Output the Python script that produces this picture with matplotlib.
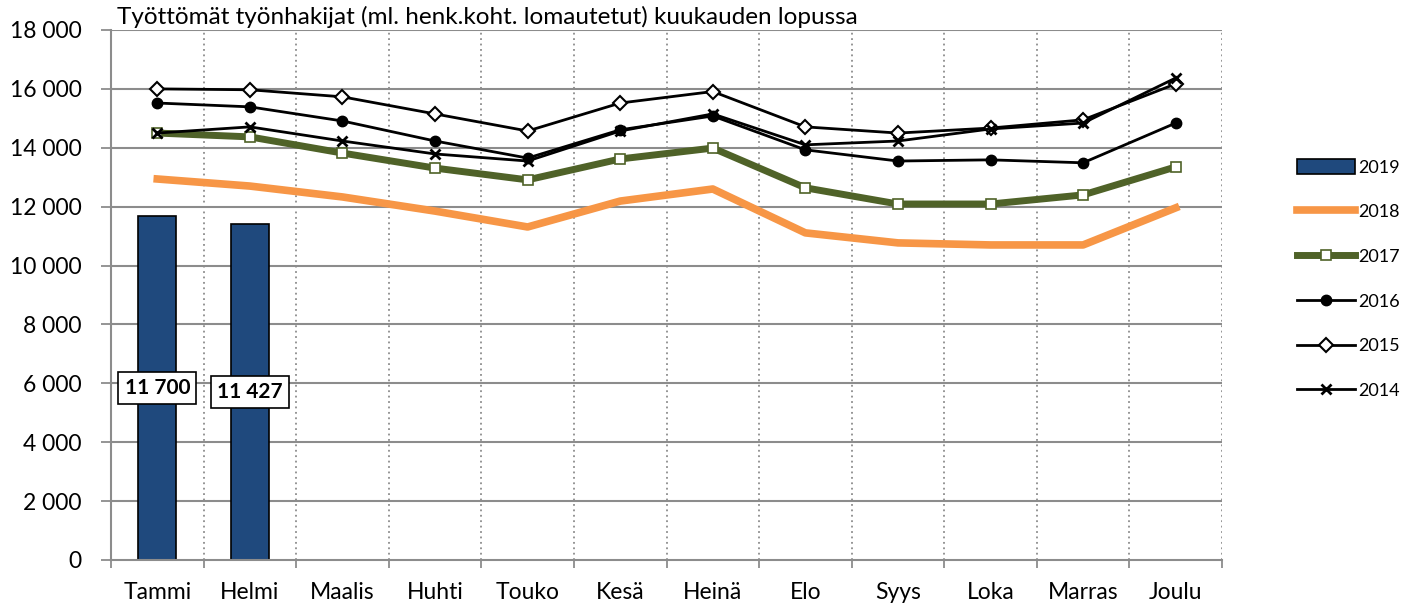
import numpy as np
import matplotlib
matplotlib.use("Agg")
import matplotlib.pyplot as plt
from matplotlib.ticker import FuncFormatter, MultipleLocator

plt.rcParams['font.family'] = ['Lato', 'DejaVu Sans']

# === data ===
months = ["Tammi", "Helmi", "Maalis", "Huhti", "Touko", "Kesä",
          "Heinä", "Elo", "Syys", "Loka", "Marras", "Joulu"]
v2019 = [11700, 11427]
v2018 = [12940, 12700, 12330, 11850, 11310, 12190, 12600, 11110, 10770, 10700, 10700, 11960]
v2017 = [14500, 14370, 13820, 13310, 12910, 13620, 13990, 12640, 12090, 12090, 12400, 13350]
v2016 = [15520, 15390, 14910, 14230, 13650, 14610, 15080, 13930, 13550, 13590, 13490, 14840]
v2015 = [16000, 15970, 15730, 15150, 14570, 15520, 15910, 14710, 14500, 14670, 14950, 16170]
v2014 = [14500, 14710, 14230, 13790, 13550, 14570, 15150, 14100, 14230, 14640, 14840, 16370]
title = "Työttömät työnhakijat (ml. henk.koht. lomautetut) kuukauden lopussa"

x = np.arange(len(months))

fig = plt.figure(figsize=(14.09, 6.10), dpi=100)
ax = fig.add_axes([111/1409, 50/610, 1111/1409, 530/610])

# grid
ax.set_axisbelow(True)
for yy in range(2000, 18001, 2000):
    ax.axhline(yy, color='#8c8c8c', lw=1.5, zorder=0)
for b in np.arange(0.5, 11.6, 1):
    ax.axvline(b, color='#8c8c8c', lw=1.3, ls=(0, (1, 2)), zorder=0)

# bars 2019
bars = ax.bar(x[:len(v2019)], v2019, width=0.41, color='#1F497D',
              edgecolor='black', lw=1.2, label='2019', zorder=2)
for xi, v in zip(x, v2019):
    ax.text(xi, v / 2, f"{v:,}".replace(",", " "), ha='center', va='center',
            fontsize=15, fontweight='bold', zorder=6,
            bbox=dict(boxstyle='square,pad=0.3', fc='white', ec='black', lw=1.2))

l18, = ax.plot(x, v2018, color='#F79646', lw=5.5, label='2018', zorder=3)
l17, = ax.plot(x, v2017, color='#4F6228', lw=5, marker='s', ms=7, mfc='white',
               mec='#4F6228', mew=1.2, label='2017', zorder=3)
l16, = ax.plot(x, v2016, color='black', lw=2, marker='o', ms=7.5, label='2016', zorder=4)
l15, = ax.plot(x, v2015, color='black', lw=2, marker='D', ms=7, mfc='white',
               mew=1.5, label='2015', zorder=4)
l14, = ax.plot(x, v2014, color='black', lw=2, marker='x', ms=7, mew=2, label='2014', zorder=4)

ax.set_xlim(-0.5, 11.5)
ax.set_ylim(0, 18000)
ax.yaxis.set_major_locator(MultipleLocator(2000))
ax.yaxis.set_major_formatter(FuncFormatter(lambda v, p: f"{int(v):,}".replace(",", " ")))
ax.set_xticks(x)
ax.set_xticklabels(months)
ax.set_xticks(np.arange(-0.5, 12, 1), minor=True)
ax.tick_params(axis='x', which='major', length=0, labelsize=16.5, pad=16)
ax.tick_params(axis='x', which='minor', length=6, color='#8c8c8c', width=1.3)
ax.tick_params(axis='y', length=7, color='#8c8c8c', width=1.3, labelsize=16.5, pad=14)

for s in ['top', 'right']:
    ax.spines[s].set_visible(False)
ax.spines['left'].set_color('#8c8c8c')
ax.spines['left'].set_linewidth(1.5)
ax.spines['bottom'].set_color('#8c8c8c')
ax.spines['bottom'].set_linewidth(1.5)

ax.text(0.005, 1.003, title, transform=ax.transAxes, fontsize=17.5, va='bottom', ha='left')

fig.legend([bars, l18, l17, l16, l15, l14], ['2019', '2018', '2017', '2016', '2015', '2014'],
           loc='center left', bbox_to_anchor=(1297/1409, 1 - 279/610), frameon=False,
           fontsize=13, labelspacing=1.55, handlelength=3.2, handleheight=0.9,
           handletextpad=0.2, borderpad=0, borderaxespad=0)

fig.savefig("out.png", dpi=100)
